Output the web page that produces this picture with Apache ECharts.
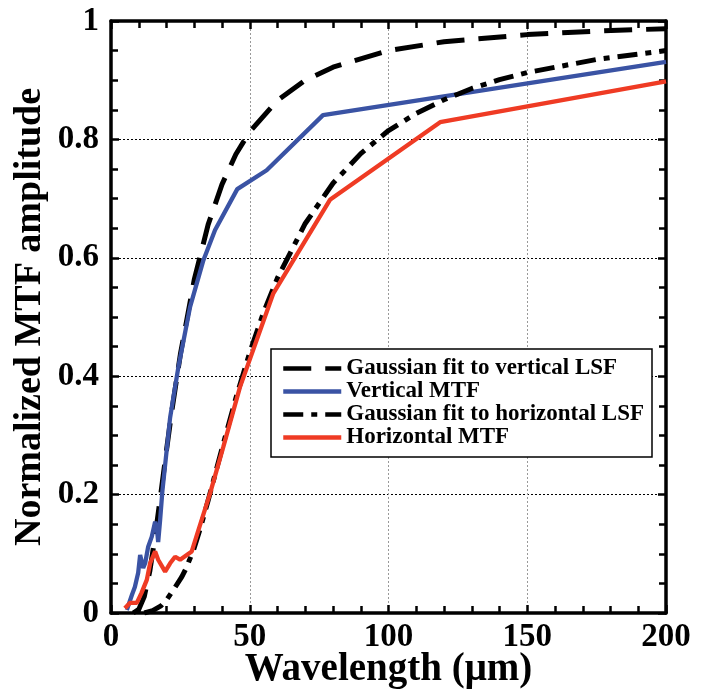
<!DOCTYPE html>
<html>
<head>
<meta charset="utf-8">
<script src="https://cdn.jsdelivr.net/npm/echarts@6/dist/echarts.min.js"></script>
<style>html,body{margin:0;padding:0;background:#fff}#c{width:701px;height:696px}</style>
</head>
<body>
<div id="c"></div>
<script>
const seriesNames = ['Gaussian fit to vertical LSF', 'Vertical MTF', 'Gaussian fit to horizontal LSF', 'Horizontal MTF'];
const xTicks = [0, 50, 100, 150, 200];
const yTicks = [0, 0.2, 0.4, 0.6, 0.8, 1];

const fitVertical = [[8,0],[10,0.006],[12,0.028],[14,0.071],[16,0.133],[18,0.203],[20,0.275],[22,0.344],[25,0.437],[30,0.563],[35,0.656],[40,0.724],[45,0.775],[50,0.813],[60,0.866],[70,0.9],[80,0.922],[100,0.95],[120,0.965],[150,0.977],[175,0.983],[200,0.987]];
const verticalMTF = [[5.7,0.005],[7.5,0.03],[8.6,0.044],[9.8,0.068],[10.5,0.098],[11.6,0.076],[12.3,0.084],[13.4,0.112],[14.7,0.129],[15.9,0.154],[16.6,0.14],[17.0,0.12],[17.7,0.157],[18.5,0.205],[21.3,0.33],[24.3,0.416],[28.5,0.517],[33.3,0.596],[37.5,0.647],[45.5,0.716],[56.1,0.748],[76.4,0.841],[200,0.931]];
const fitHorizontal = [[12,0],[15,0.004],[18,0.012],[20,0.022],[22.5,0.039],[25.5,0.061],[27,0.075],[29.7,0.106],[32,0.14],[35,0.19],[40,0.278],[45,0.363],[50,0.44],[55,0.508],[60,0.566],[70,0.658],[80,0.726],[90,0.776],[100,0.815],[110,0.844],[120,0.867],[130,0.886],[140,0.901],[150,0.913],[175,0.935],[200,0.95]];
const horizontalMTF = [[5,0.008],[6.8,0.017],[9.3,0.017],[11,0.034],[12.9,0.056],[14.1,0.084],[15.9,0.104],[17,0.09],[19.5,0.07],[21.3,0.084],[23.1,0.095],[24.9,0.09],[27.3,0.098],[29.1,0.104],[31.5,0.14],[35.7,0.202],[40.5,0.281],[46.5,0.382],[58.5,0.54],[78.9,0.698],[118.6,0.829],[200,0.898]];

const FONT = 'Liberation Serif';
const chart = echarts.init(document.getElementById('c'), null, {renderer: 'canvas'});

function xAxisCfg(pos, main) {
  return {
    type: 'value', position: pos, min: xTicks[0], max: xTicks[xTicks.length-1], interval: 50,
    name: main ? 'Wavelength (\u03BCm)' : '', nameLocation: 'middle', nameGap: 37, nameMoveOverlap: false,
    nameTextStyle: {fontFamily: FONT, fontWeight: 'bold', fontSize: 39, color: '#000'},
    axisLine: {show: true, onZero: false, lineStyle: {color: '#000', width: 3.5}},
    axisTick: {show: true, inside: true, length: 8, lineStyle: {color: '#000', width: 2.5}},
    minorTick: {show: true, splitNumber: 5, length: 7, lineStyle: {color: '#000', width: 2.5}},
    axisLabel: {show: main, margin: 8, fontFamily: FONT, fontWeight: 'bold', fontSize: 33, color: '#000'},
    splitLine: {show: main, lineStyle: {color: '#999', type: [2, 2], width: 1}},
    minorSplitLine: {show: false}
  };
}
function yAxisCfg(pos, main) {
  return {
    type: 'value', position: pos, min: yTicks[0], max: yTicks[yTicks.length-1], interval: 0.2,
    name: main ? 'Normalized MTF amplitude' : '', nameLocation: 'middle', nameGap: 62, nameMoveOverlap: false,
    nameTextStyle: {fontFamily: FONT, fontWeight: 'bold', fontSize: 38, color: '#000'},
    axisLine: {show: true, onZero: false, lineStyle: {color: '#000', width: 3.5}},
    axisTick: {show: true, inside: true, length: 8, lineStyle: {color: '#000', width: 2.5}},
    minorTick: {show: true, splitNumber: 4, length: 7, lineStyle: {color: '#000', width: 2.5}},
    axisLabel: {show: main, margin: 12, fontFamily: FONT, fontWeight: 'bold', fontSize: 33, color: '#000',
      formatter: v => (v === 0 ? '0' : v === 1 ? '1' : v.toFixed(1))},
    splitLine: {show: main, lineStyle: {color: '#000', type: [2, 2], width: 1}}
  };
}

const option = {
  animation: false,
  backgroundColor: '#fff',
  grid: {left: 111, right: 35, top: 21, bottom: 83, containLabel: false, outerBoundsMode: 'none'},
  xAxis: [xAxisCfg('bottom', true), xAxisCfg('top', false)],
  yAxis: [yAxisCfg('left', true), yAxisCfg('right', false)],
  legend: {
    orient: 'vertical', left: 271, top: 349,
    padding: [8, 8, 8, 10], itemGap: 0, itemWidth: 58, itemHeight: 21,
    backgroundColor: '#fff', borderColor: '#000', borderWidth: 1.5, borderRadius: 0,
    itemStyle: {opacity: 0},
    lineStyle: {width: 4.5},
    textStyle: {fontFamily: FONT, fontWeight: 'bold', fontSize: 23, color: '#000', lineHeight: 21},
    data: seriesNames
  },
  series: [
    {name: seriesNames[0], type: 'line', data: fitVertical, symbol: 'none', showSymbol: false,
     lineStyle: {color: '#000', width: 5, type: [28, 14]}, itemStyle: {color: '#000'}},
    {name: seriesNames[1], type: 'line', data: verticalMTF, symbol: 'none', showSymbol: false,
     lineStyle: {color: '#3a53a4', width: 4.3}, itemStyle: {color: '#3a53a4'}},
    {name: seriesNames[2], type: 'line', data: fitHorizontal, symbol: 'none', showSymbol: false,
     lineStyle: {color: '#000', width: 5, type: [20, 8, 6, 8]}, itemStyle: {color: '#000'}},
    {name: seriesNames[3], type: 'line', data: horizontalMTF, symbol: 'none', showSymbol: false,
     lineStyle: {color: '#ef3b24', width: 4.3}, itemStyle: {color: '#ef3b24'}}
  ]
};
chart.setOption(option);
</script>
</body>
</html>
